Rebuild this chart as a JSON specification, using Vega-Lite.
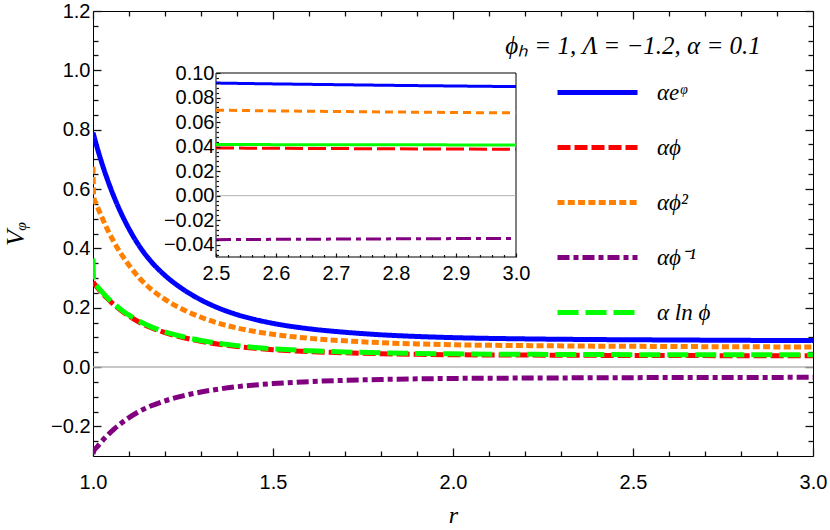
{
  "$schema": "https://vega.github.io/schema/vega-lite/v6.json",
  "width": 720,
  "height": 445,
  "autosize": {"type": "none"},
  "padding": {"left": 93, "top": 11, "right": 17, "bottom": 74},
  "background": "white",
  "config": {
    "view": {"stroke": "black", "strokeWidth": 1},
    "axis": {
      "grid": false,
      "domain": false,
      "labelColor": "black",
      "labelFont": "Liberation Sans",
      "labelFontSize": 20,
      "labelOverlap": false,
      "labelFlush": false,
      "titleColor": "black",
      "titleFont": "Liberation Serif",
      "titleFontStyle": "italic",
      "titleFontWeight": "normal"
    },
    "legend": {
      "orient": "none",
      "legendX": 462,
      "legendY": 39,
      "padding": 0,
      "symbolType": "stroke",
      "symbolSize": 6400,
      "symbolStrokeWidth": 5,
      "labelFont": "Liberation Serif",
      "labelFontStyle": "italic",
      "labelFontSize": 23,
      "labelColor": "black",
      "labelOffset": 17,
      "rowPadding": -27.75,
      "labelLimit": 300
    }
  },
  "datasets": {
    "curves": [
      {"r": 1.0, "αeᵠ": 0.79, "αϕ": 0.287, "αϕ²": 0.675, "αϕ⁻¹": -0.293, "α ln ϕ": 0.366},
      {"r": 1.002, "αeᵠ": 0.7809, "αϕ": 0.2835, "αϕ²": 0.5727, "αϕ⁻¹": -0.284, "α ln ϕ": 0.2865},
      {"r": 1.01, "αeᵠ": 0.7461, "αϕ": 0.2711, "αϕ²": 0.5473, "αϕ⁻¹": -0.2715, "α ln ϕ": 0.2741},
      {"r": 1.02, "αeᵠ": 0.7052, "αϕ": 0.2566, "αϕ²": 0.5175, "αϕ⁻¹": -0.2568, "α ln ϕ": 0.2596},
      {"r": 1.04, "αeᵠ": 0.632, "αϕ": 0.2306, "αϕ²": 0.464, "αϕ⁻¹": -0.2304, "α ln ϕ": 0.2336},
      {"r": 1.06, "αeᵠ": 0.5687, "αϕ": 0.2081, "αϕ²": 0.4178, "αϕ⁻¹": -0.2077, "α ln ϕ": 0.2111},
      {"r": 1.08, "αeᵠ": 0.5137, "αϕ": 0.1886, "αϕ²": 0.3777, "αϕ⁻¹": -0.1879, "α ln ϕ": 0.1916},
      {"r": 1.1, "αeᵠ": 0.4658, "αϕ": 0.1716, "αϕ²": 0.3427, "αϕ⁻¹": -0.1706, "α ln ϕ": 0.1746},
      {"r": 1.13, "αeᵠ": 0.4052, "αϕ": 0.1501, "αϕ²": 0.2985, "αϕ⁻¹": -0.1488, "α ln ϕ": 0.1531},
      {"r": 1.16, "αeᵠ": 0.3575, "αϕ": 0.1332, "αϕ²": 0.2636, "αϕ⁻¹": -0.1316, "α ln ϕ": 0.1362},
      {"r": 1.2, "αeᵠ": 0.3086, "αϕ": 0.1158, "αϕ²": 0.2279, "αϕ⁻¹": -0.114, "α ln ϕ": 0.1188},
      {"r": 1.25, "αeᵠ": 0.262, "αϕ": 0.0993, "αϕ²": 0.1939, "αϕ⁻¹": -0.0972, "α ln ϕ": 0.1023},
      {"r": 1.3, "αeᵠ": 0.226, "αϕ": 0.0865, "αϕ²": 0.1676, "αϕ⁻¹": -0.0843, "α ln ϕ": 0.0895},
      {"r": 1.35, "αeᵠ": 0.1982, "αϕ": 0.0766, "αϕ²": 0.1473, "αϕ⁻¹": -0.0743, "α ln ϕ": 0.0796},
      {"r": 1.4, "αeᵠ": 0.1766, "αϕ": 0.069, "αϕ²": 0.1316, "αϕ⁻¹": -0.0665, "α ln ϕ": 0.072},
      {"r": 1.45, "αeᵠ": 0.1602, "αϕ": 0.0631, "αϕ²": 0.1196, "αϕ⁻¹": -0.0606, "α ln ϕ": 0.0661},
      {"r": 1.5, "αeᵠ": 0.1472, "αϕ": 0.0585, "αϕ²": 0.1101, "αϕ⁻¹": -0.0559, "α ln ϕ": 0.0615},
      {"r": 1.6, "αeᵠ": 0.1289, "αϕ": 0.052, "αϕ²": 0.0968, "αϕ⁻¹": -0.0493, "α ln ϕ": 0.055},
      {"r": 1.7, "αeᵠ": 0.1171, "αϕ": 0.0478, "αϕ²": 0.0881, "αϕ⁻¹": -0.0451, "α ln ϕ": 0.0508},
      {"r": 1.8, "αeᵠ": 0.1086, "αϕ": 0.0448, "αϕ²": 0.0819, "αϕ⁻¹": -0.042, "α ln ϕ": 0.0478},
      {"r": 1.9, "αeᵠ": 0.1029, "αϕ": 0.0428, "αϕ²": 0.0778, "αϕ⁻¹": -0.04, "α ln ϕ": 0.0458},
      {"r": 2.0, "αeᵠ": 0.099, "αϕ": 0.0414, "αϕ²": 0.0749, "αϕ⁻¹": -0.0386, "α ln ϕ": 0.0444},
      {"r": 2.2, "αeᵠ": 0.0948, "αϕ": 0.0402, "αϕ²": 0.0722, "αϕ⁻¹": -0.0373, "α ln ϕ": 0.0428},
      {"r": 2.4, "αeᵠ": 0.0925, "αϕ": 0.0392, "αϕ²": 0.0703, "αϕ⁻¹": -0.0363, "α ln ϕ": 0.042},
      {"r": 2.5, "αeᵠ": 0.0918, "αϕ": 0.0389, "αϕ²": 0.0697, "αϕ⁻¹": -0.0359, "α ln ϕ": 0.0417},
      {"r": 2.6, "αeᵠ": 0.0911, "αϕ": 0.0386, "αϕ²": 0.0691, "αϕ⁻¹": -0.0356, "α ln ϕ": 0.0416},
      {"r": 2.7, "αeᵠ": 0.0905, "αϕ": 0.0384, "αϕ²": 0.0686, "αϕ⁻¹": -0.0354, "α ln ϕ": 0.0415},
      {"r": 2.8, "αeᵠ": 0.0899, "αϕ": 0.0382, "αϕ²": 0.0682, "αϕ⁻¹": -0.0352, "α ln ϕ": 0.0415},
      {"r": 2.9, "αeᵠ": 0.0894, "αϕ": 0.038, "αϕ²": 0.0678, "αϕ⁻¹": -0.035, "α ln ϕ": 0.0414},
      {"r": 3.0, "αeᵠ": 0.0889, "αϕ": 0.0378, "αϕ²": 0.0675, "αϕ⁻¹": -0.0349, "α ln ϕ": 0.0414}
    ]
  },
  "layer": [
    {
      "data": {"values": [{}]},
      "mark": {"type": "point", "opacity": 0},
      "encoding": {
        "x": {"datum": 2, "type": "quantitative",
          "scale": {"domain": [1, 3], "nice": false, "zero": false},
          "axis": {"orient": "top", "title": null, "labels": false, "tickSize": -8, "tickColor": "#111111", "tickWidth": 1.3,
            "values": [1.0, 1.5, 2.0, 2.5, 3.0]}},
        "y": {"datum": 0.5, "type": "quantitative",
          "scale": {"domain": [-0.3, 1.2], "nice": false, "zero": false},
          "axis": {"orient": "right", "title": null, "labels": false, "tickSize": -8, "tickColor": "#111111", "tickWidth": 1.3,
            "values": [-0.2, 0, 0.2, 0.4, 0.6, 0.8, 1.0, 1.2]}}
      }
    },
    {
      "data": {"values": [{}]},
      "mark": {"type": "point", "opacity": 0},
      "encoding": {
        "x": {"datum": 2, "type": "quantitative",
          "scale": {"domain": [1, 3], "nice": false, "zero": false},
          "axis": {"orient": "top", "title": null, "labels": false, "tickSize": -5, "tickColor": "#111111", "tickWidth": 1.3,
            "values": [1.1, 1.2, 1.3, 1.4, 1.6, 1.7, 1.8, 1.9, 2.1, 2.2, 2.3, 2.4, 2.6, 2.7, 2.8, 2.9]}},
        "y": {"datum": 0.5, "type": "quantitative",
          "scale": {"domain": [-0.3, 1.2], "nice": false, "zero": false},
          "axis": {"orient": "right", "title": null, "labels": false, "tickSize": -5, "tickColor": "#111111", "tickWidth": 1.3,
            "values": [-0.25, -0.15, -0.1, -0.05, 0.05, 0.1, 0.15, 0.25, 0.3, 0.35, 0.45, 0.5, 0.55, 0.65, 0.7, 0.75, 0.85, 0.9, 0.95, 1.05, 1.1, 1.15]}}
      }
    },
    {
      "data": {"values": [{}]},
      "mark": {"type": "rule", "color": "#b4b4b4", "strokeWidth": 1.5},
      "encoding": {
        "x": {"datum": 1, "type": "quantitative",
          "scale": {"domain": [1, 3], "nice": false, "zero": false},
          "axis": {"orient": "bottom", "title": null, "labels": false, "tickSize": -5, "tickColor": "#111111", "tickWidth": 1.3,
            "values": [1.1, 1.2, 1.3, 1.4, 1.6, 1.7, 1.8, 1.9, 2.1, 2.2, 2.3, 2.4, 2.6, 2.7, 2.8, 2.9]}},
        "x2": {"datum": 3},
        "y": {"datum": 0, "type": "quantitative",
          "scale": {"domain": [-0.3, 1.2], "nice": false, "zero": false},
          "axis": {"orient": "left", "title": null, "labels": false, "tickSize": -5, "tickColor": "#111111", "tickWidth": 1.3,
            "values": [-0.25, -0.15, -0.1, -0.05, 0.05, 0.1, 0.15, 0.25, 0.3, 0.35, 0.45, 0.5, 0.55, 0.65, 0.7, 0.75, 0.85, 0.9, 0.95, 1.05, 1.1, 1.15]}}
      }
    },
    {
      "data": {"values": [{"label": "ϕₕ = 1, Λ = −1.2, α = 0.1"}]},
      "mark": {"type": "text", "align": "center", "baseline": "alphabetic", "font": "Liberation Serif", "fontStyle": "italic", "fontSize": 25, "color": "black"},
      "encoding": {
        "text": {"field": "label"},
        "x": {"datum": 2.5, "type": "quantitative", "scale": {"domain": [1, 3], "nice": false, "zero": false}, "axis": null},
        "y": {"datum": 1.055, "type": "quantitative", "scale": {"domain": [-0.3, 1.2], "nice": false, "zero": false}, "axis": null}
      }
    },
    {
      "data": {"name": "curves"},
      "transform": [{"fold": ["αeᵠ", "αϕ", "αϕ²", "αϕ⁻¹", "α ln ϕ"], "as": ["series", "V"]}],
      "mark": {"type": "line", "strokeWidth": 5, "interpolate": "monotone", "strokeCap": "butt", "clip": true},
      "encoding": {
        "x": {"field": "r", "type": "quantitative",
          "scale": {"domain": [1, 3], "nice": false, "zero": false},
          "axis": {"orient": "bottom", "title": "r", "titleFontSize": 24, "titlePadding": 11, "labelPadding": 24,
            "tickSize": -8, "tickColor": "#111111", "tickWidth": 1.3, "format": ".1f",
            "values": [1.0, 1.5, 2.0, 2.5, 3.0]}},
        "y": {"field": "V", "type": "quantitative",
          "scale": {"domain": [-0.3, 1.2], "nice": false, "zero": false},
          "axis": {"orient": "left", "title": "Vᵩ", "titleFontSize": 26, "titlePadding": 22, "labelPadding": 11,
            "tickSize": -8, "tickColor": "#111111", "tickWidth": 1.3, "format": ".1f",
            "values": [-0.2, 0, 0.2, 0.4, 0.6, 0.8, 1.0, 1.2]}},
        "color": {"field": "series", "type": "nominal",
          "scale": {"domain": ["αeᵠ", "αϕ", "αϕ²", "αϕ⁻¹", "α ln ϕ"], "range": ["#0000ff", "#ff0000", "#ff8000", "#800080", "#00ff00"]},
          "legend": {"title": null}},
        "strokeDash": {"field": "series", "type": "nominal",
          "scale": {"domain": ["αeᵠ", "αϕ", "αϕ²", "αϕ⁻¹", "α ln ϕ"], "range": [[1, 0], [13, 4], [7, 3.3], [12, 4, 5, 4], [21, 7]]},
          "legend": {"title": null}}
      }
    },
    {
      "data": {"values": [{}]},
      "mark": {"type": "rect", "fill": "white", "stroke": "black", "strokeWidth": 1},
      "encoding": {
        "x": {"datum": 2.5, "type": "quantitative",
          "scale": {"domain": [2.5, 3.0], "range": [123, 423], "nice": false, "zero": false},
          "axis": {"orient": "bottom", "offset": -199, "tickSize": -4, "tickColor": "#111111", "tickWidth": 1.2, "zindex": 1,
            "title": null, "labelPadding": 10.5, "format": ".1f",
            "values": [2.5, 2.6, 2.7, 2.8, 2.9, 3.0]}},
        "x2": {"datum": 3.0},
        "y": {"datum": -0.05, "type": "quantitative",
          "scale": {"domain": [-0.05, 0.1], "range": [246, 62], "nice": false, "zero": false},
          "axis": {"orient": "left", "offset": -123, "tickSize": -4, "tickColor": "#111111", "tickWidth": 1.2, "zindex": 1,
            "title": null, "labelPadding": 6, "format": ".2f",
            "values": [-0.04, -0.02, 0, 0.02, 0.04, 0.06, 0.08, 0.1]}},
        "y2": {"datum": 0.1}
      }
    },
    {
      "data": {"values": [{}]},
      "mark": {"type": "rule", "color": "#a0a0a0", "strokeWidth": 0.8},
      "encoding": {
        "x": {"datum": 2.5, "type": "quantitative",
          "scale": {"domain": [2.5, 3.0], "range": [123, 423], "nice": false, "zero": false},
          "axis": {"orient": "bottom", "offset": -199, "tickSize": -2.5, "tickColor": "#111111", "tickWidth": 1.2, "zindex": 1,
            "title": null, "labels": false,
            "values": [2.52, 2.54, 2.56, 2.58, 2.62, 2.64, 2.66, 2.68, 2.72, 2.74, 2.76, 2.78, 2.82, 2.84, 2.86, 2.88, 2.92, 2.94, 2.96, 2.98]}},
        "x2": {"datum": 3.0},
        "y": {"datum": 0, "type": "quantitative",
          "scale": {"domain": [-0.05, 0.1], "range": [246, 62], "nice": false, "zero": false},
          "axis": {"orient": "left", "offset": -123, "tickSize": -2.5, "tickColor": "#111111", "tickWidth": 1.2, "zindex": 1,
            "title": null, "labels": false,
            "values": [-0.048, -0.044, -0.036, -0.032, -0.028, -0.024, -0.016, -0.012, -0.008, -0.004, 0.004, 0.008, 0.012, 0.016, 0.024, 0.028, 0.032, 0.036, 0.044, 0.048, 0.052, 0.056, 0.064, 0.068, 0.072, 0.076, 0.084, 0.088, 0.092, 0.096]}}
      }
    },
    {
      "data": {"name": "curves"},
      "transform": [{"filter": "datum.r >= 2.5"}, {"fold": ["αeᵠ", "αϕ", "αϕ²", "αϕ⁻¹", "α ln ϕ"], "as": ["series", "V"]}],
      "mark": {"type": "line", "strokeWidth": 3, "interpolate": "monotone", "strokeCap": "butt"},
      "encoding": {
        "x": {"field": "r", "type": "quantitative", "scale": {"domain": [2.5, 3.0], "range": [123, 423], "nice": false, "zero": false}, "axis": null},
        "y": {"field": "V", "type": "quantitative", "scale": {"domain": [-0.05, 0.1], "range": [246, 62], "nice": false, "zero": false}, "axis": null},
        "color": {"field": "series", "type": "nominal",
          "scale": {"domain": ["αeᵠ", "αϕ", "αϕ²", "αϕ⁻¹", "α ln ϕ"], "range": ["#0000ff", "#ff0000", "#ff8000", "#800080", "#00ff00"]},
          "legend": null},
        "strokeDash": {"field": "series", "type": "nominal",
          "scale": {"domain": ["αeᵠ", "αϕ", "αϕ²", "αϕ⁻¹", "α ln ϕ"], "range": [[1, 0], [18, 5], [8, 5], [15, 5, 5, 5], [1, 0]]},
          "legend": null}
      }
    }
  ],
  "resolve": {
    "scale": {"x": "independent", "y": "independent", "color": "independent", "strokeDash": "independent"}
  }
}
